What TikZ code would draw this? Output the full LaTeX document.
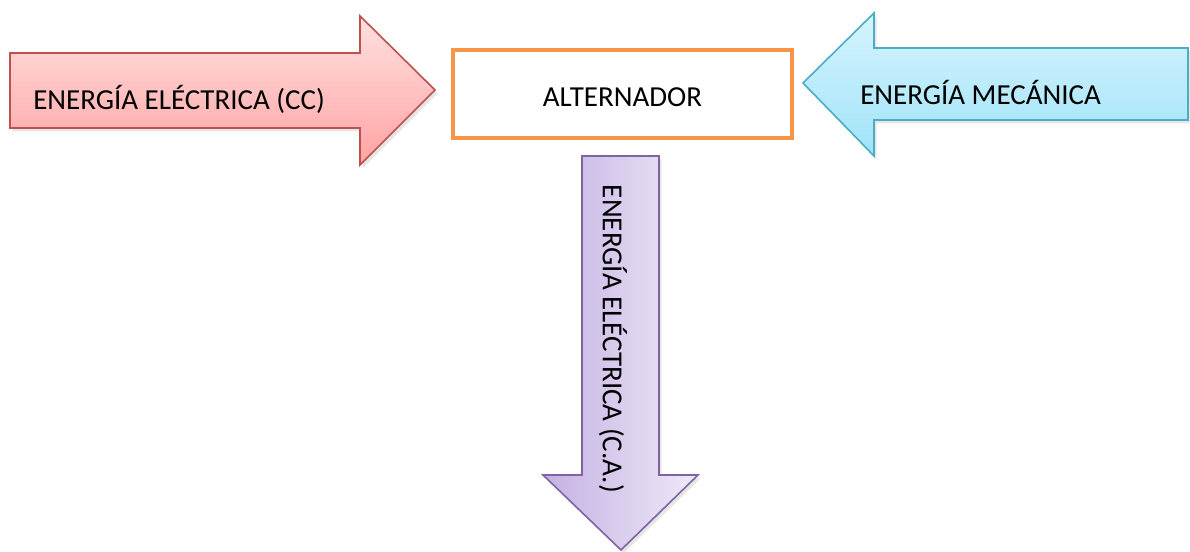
\documentclass[tikz,border=0pt]{standalone}
\usepackage{fontspec}
\setmainfont{Carlito}
\usetikzlibrary{shadows}
\definecolor{redline}{HTML}{C0504D}
\definecolor{redtop}{HTML}{FFE0E0}
\definecolor{redbot}{HTML}{FFA3A3}
\definecolor{blueline}{HTML}{4BACC6}
\definecolor{bluetop}{HTML}{D6F4FD}
\definecolor{bluebot}{HTML}{A0E3F8}
\definecolor{purpleline}{HTML}{8064A2}
\definecolor{purpleleft}{HTML}{C4B1E3}
\definecolor{purpleright}{HTML}{EFE9F8}
\definecolor{boxline}{HTML}{F79646}
\tikzset{
  bigarrow/.style={line width=1.2pt, line join=miter,
    drop shadow={opacity=0.2, shadow xshift=2pt, shadow yshift=-2.5pt}},
  txt/.style={font=\fontsize{21.75}{26}\selectfont, inner sep=0pt, text=black}
}
\begin{document}
\begin{tikzpicture}[x=0.75pt, y=-0.75pt]
  \useasboundingbox (0,0) rectangle (1190,552);

  % left arrow: direct current input
  \path[bigarrow, draw=redline, top color=redtop, bottom color=redbot]
    (10,53) -- (360,53) -- (360,16) -- (435,90) -- (360,165) -- (360,128) -- (10,128) -- cycle;
  \node[txt, anchor=west] (dc) at (33,99) {ENERGÍA ELÉCTRICA (CC)};

  % right arrow: mechanical input
  \path[bigarrow, draw=blueline, top color=bluetop, bottom color=bluebot]
    (1188,48) -- (874,48) -- (874,13) -- (803,83) -- (874,156) -- (874,120) -- (1188,120) -- cycle;
  \node[txt, anchor=west] (mech) at (860,92) {ENERGÍA MECÁNICA};

  % central block
  \node[draw=boxline, line width=3pt, fill=white, inner sep=0pt,
        minimum width=254.25pt, minimum height=66pt] (alt) at (622.5,94) {};
  \node[txt] (alttext) at (622.5,97) {ALTERNADOR};

  % bottom arrow: alternating current output
  \path[bigarrow, draw=purpleline, left color=purpleleft, right color=purpleright]
    (582,156) -- (659,156) -- (659,475) -- (698,475) -- (621,550) -- (543,475) -- (582,475) -- cycle;
  \node[txt, rotate=-90] (ac) at (613,339) {ENERGÍA ELÉCTRICA (C.A.)};
\end{tikzpicture}
\end{document}
